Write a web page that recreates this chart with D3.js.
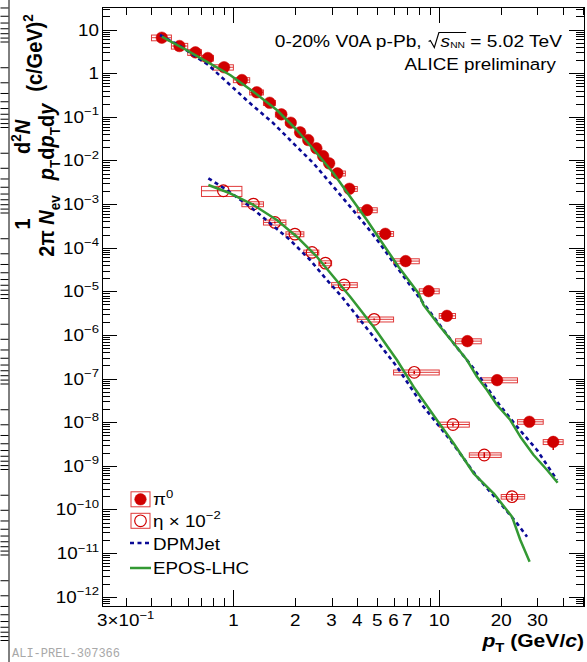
<!DOCTYPE html>
<html><head><meta charset="utf-8">
<script src="https://cdn.jsdelivr.net/npm/d3@7"></script>
<style>
html,body{margin:0;padding:0;background:#fff;}
svg{display:block;font-family:"Liberation Sans",Arial,Helvetica,sans-serif;}
</style></head><body>
<svg id="c" width="587" height="662"></svg>
<script>
// ---------------- data ----------------
const piPt  = [0.449,0.547,0.654,0.751,0.901,1.10,1.30,1.50,1.71,1.90,2.11,2.31,2.53,2.73,2.92,3.20,3.66,4.46,5.47,6.87,8.88,10.9,13.7,19.1,27.4,35.8];
const piVal = [6.52,4.2,3.01,2.23,1.37,0.698,0.365,0.21,0.114,0.0733,0.0441,0.0294,0.019,0.0126,0.00858,0.00506,0.00224,7.28e-4,2.08e-4,4.93e-5,1.01e-5,2.74e-6,7.21e-7,9.19e-8,1.02e-8,3.53e-9];
const piLo  = [0.4,0.5,0.6,0.7,0.8,1.0,1.2,1.4,1.6,1.8,2.0,2.2,2.4,2.6,2.8,3.0,3.5,4,5,6,8,10,12,16,24,32];
const piHi  = [0.5,0.6,0.7,0.8,1.0,1.2,1.4,1.6,1.8,2.0,2.2,2.4,2.6,2.8,3.0,3.5,4.0,5,6,8,10,12,16,24,32,40];
const piSys = [0.15,0.15,0.15,0.15,0.14,0.13,0.13,0.13,0.13,0.13,0.13,0.13,0.13,0.13,0.13,0.13,0.13,0.13,0.13,0.13,0.13,0.13,0.13,0.13,0.12,0.13];
const piStat= [0.01,0.01,0.01,0.01,0.01,0.01,0.01,0.01,0.01,0.01,0.01,0.01,0.01,0.01,0.01,0.02,0.02,0.03,0.04,0.05,0.06,0.08,0.1,0.12,0.2,0.35];

const etaPt  = [0.894,1.25,1.59,1.99,2.41,2.80,3.45,4.83,7.56,11.66,16.55,22.57];
const etaVal = [2.02e-3,1.0e-3,3.8e-4,2.05e-4,7.8e-5,4.43e-5,1.40e-5,2.28e-6,1.39e-7,8.85e-9,1.77e-9,1.96e-10];
const etaLo  = [0.7,1.1,1.4,1.8,2.2,2.6,3,4,6,10,14,20];
const etaHi  = [1.1,1.4,1.8,2.2,2.6,3.0,4,6,10,14,20,26];
const etaSys = [0.26,0.13,0.13,0.13,0.13,0.13,0.13,0.13,0.13,0.13,0.12,0.12];
const etaStat= [0.05,0.05,0.05,0.05,0.05,0.05,0.05,0.05,0.08,0.1,0.15,0.2];

const dpmPiPt  = [0.440,0.551,0.756,0.964,1.206,1.565,1.957,2.449,3.063,3.693,4.452,5.07,6.11,8.39,11.74,14.68,19.08,23.87,29.85,37.35];
const dpmPiVal = [7.52,4.21,1.54,0.537,0.204,0.0711,0.0247,0.00861,0.0025,8.71e-4,3.03e-4,1.37e-4,4.01e-5,5.31e-6,6.43e-7,1.72e-7,2.95e-8,7.88e-9,2.30e-9,4.72e-10];
const eposPiPt  = [0.449,0.571,0.742,0.964,1.251,1.626,2.033,2.544,3.063,3.693,4.452,5.17,6.34,7.93,8.39,10.11,11.74,13.64,15.26,17.06,19.08,22.14,24.77,28.74,33.40,37.60];
const eposPiVal = [6.88,3.73,1.84,0.910,0.377,0.1435,0.0499,0.0146,0.00508,0.001476,4.31e-4,1.50e-4,3.67e-5,9.01e-6,4.86e-6,1.545e-6,6.43e-7,2.66e-7,1.10e-7,5.47e-8,2.48e-8,1.12e-8,4.65e-9,1.77e-9,8.01e-10,4.10e-10];
const dpmEtaPt  = [0.756,0.929,1.206,1.508,1.887,2.360,2.845,3.365,3.559,4.795,6.23,8.39,11.31,15.26,19.80,23.87,26.70];
const dpmEtaVal = [3.90e-3,2.10e-3,8.71e-4,3.63e-4,1.50e-4,5.22e-5,1.82e-5,7.53e-6,5.31e-6,9.11e-7,1.87e-7,2.26e-8,3.90e-9,5.62e-10,1.38e-10,4.81e-11,2.37e-11];
const eposEtaPt  = [0.756,0.964,1.251,1.626,2.033,2.544,3.063,3.693,4.795,6.23,7.50,9.74,11.74,14.68,18.37,22.57,24.77,27.48];
const eposEtaVal = [2.74e-3,1.77e-3,9.53e-4,4.31e-4,1.79e-4,6.22e-5,2.16e-5,7.53e-6,1.545e-6,2.66e-7,6.51e-8,1.12e-8,3.28e-9,6.73e-10,2.34e-10,6.81e-11,1.99e-11,6.34e-12];

const yLabelExp  = [1,0,-1,-2,-3,-4,-5,-6,-7,-8,-9,-10,-11,-12];
const xLabelVals = [0.3,1,2,3,4,5,6,7,10,20,30];
const xLabelMain = ["3×10","1","2","3","4","5","6","7","10","20","30"];
const xLabelSup  = ["−1","","","","","","","","","",""];
const legendLabels = ["π","η × 10","DPMJet","EPOS-LHC"];

// ---------------- layout ----------------
const SX = 1.14;
const L=102, R=584, T=7, B=606;
const RED="#d00000", BOXC="#e03a3a", BLUE="#0a0a96", GREEN="#339933";
const svg = d3.select('#c');
const x = d3.scaleLog().domain([0.23, 50.5]).range([L, R]);
const y = d3.scaleLog().domain([6.11e-13, 32.96]).range([B, T]);

function label(parent, px, py, o={}) {
  const g = parent.append('g').attr('transform', `translate(${px},${py}) scale(${o.sx||SX},1)` + (o.rot ? ` rotate(${o.rot})` : ''));
  const t = g.append('text').attr('text-anchor', o.anchor||'start')
    .attr('font-size', o.size||16.5).attr('font-weight', o.weight||'normal').attr('fill', o.fill||'#000');
  if (o.family) t.attr('font-family', o.family);
  return {g, t};
}
function sp(t, s, o={}) {
  const ts = t.append('tspan').text(s);
  if (o.size) ts.attr('font-size', o.size);
  if (o.dy != null) ts.attr('dy', o.dy);
  if (o.dx != null) ts.attr('dx', o.dx);
  if (o.italic) ts.attr('font-style', 'italic');
  if (o.weight) ts.attr('font-weight', o.weight);
  return ts;
}

// ---------- left-edge artifact axis ----------
const art = d3.scaleLog().domain([1, 1e9]).range([-44, 725.5]);
const artMaj = d3.range(0, 10).map(e => Math.pow(10, e));
const artMin = [];
for (let e = 0; e < 9; e++) for (let d = 2; d <= 9; d++) artMin.push(d * Math.pow(10, e));
svg.append('g').attr('transform', 'translate(8.5,0)')
  .call(d3.axisLeft(art).tickValues(artMaj).tickSize(8).tickSizeOuter(0).tickFormat(''))
  .call(g => g.selectAll('text').remove());
svg.append('g').attr('transform', 'translate(8.5,0)')
  .call(d3.axisLeft(art).tickValues(artMin).tickSize(8).tickSizeOuter(0).tickFormat(''))
  .call(g => { g.select('.domain').remove(); g.selectAll('text').remove(); });

// ---------- frame & ticks ----------
const majY = yLabelExp.map(e => Math.pow(10, e));
const minY = [];
for (let e = -13; e <= 1; e++) for (let d = 2; d <= 9; d++) { const v = d * Math.pow(10, e); if (v > 6.11e-13 && v < 32.96) minY.push(v); }
const majX = [1, 10];
const minX = [];
for (let e = -1; e <= 1; e++) for (let d = 2; d <= 9; d++) { const v = d * Math.pow(10, e); if (v > 0.23 && v < 50.5) minX.push(v); }

const ax = svg.append('g').attr('shape-rendering', 'crispEdges');
function ticks(gen, tr, vals, size) {
  ax.append('g').attr('transform', tr)
    .call(gen.tickValues(vals).tickSize(size).tickSizeOuter(0).tickFormat(''))
    .call(g => { g.select('.domain').remove(); g.selectAll('text').remove(); g.selectAll('line').attr('stroke', '#000'); });
}
ticks(d3.axisLeft(y), `translate(${L},0)`, majY, -15);
ticks(d3.axisLeft(y), `translate(${L},0)`, minY, -8);
ticks(d3.axisRight(y), `translate(${R},0)`, majY, -15);
ticks(d3.axisRight(y), `translate(${R},0)`, minY, -8);
ticks(d3.axisBottom(x), `translate(0,${B})`, majX, -16);
ticks(d3.axisBottom(x), `translate(0,${B})`, minX, -8);
ticks(d3.axisTop(x), `translate(0,${T})`, majX, -16);
ticks(d3.axisTop(x), `translate(0,${T})`, minX, -8);
ax.append('rect').attr('x', L).attr('y', T).attr('width', R - L).attr('height', B - T)
  .attr('fill', 'none').attr('stroke', '#000').attr('stroke-width', 1);

// y tick labels
yLabelExp.forEach(e => {
  const v = Math.pow(10, e);
  const {t} = label(svg, 99, y(v) + 6, {anchor: 'end'});
  if (e === 1) sp(t, '10');
  else if (e === 0) sp(t, '1');
  else { sp(t, '10'); sp(t, '−' + Math.abs(e), {size: 11.5, dy: -7.5}); }
});
// x tick labels
xLabelVals.forEach((v, i) => {
  const {t} = label(svg, x(v), 626, {anchor: 'middle'});
  sp(t, xLabelMain[i]);
  if (xLabelSup[i]) sp(t, xLabelSup[i], {size: 11.5, dy: -7.5});
});

// axis titles
{
  const {t} = label(svg, 584, 646.5, {anchor: 'end', size: 18.5, weight: 'bold'});
  sp(t, 'p', {italic: true}); sp(t, 'T', {size: 13, dy: 5}); sp(t, ' (GeV/', {dy: -5}); sp(t, 'c', {italic: true}); sp(t, ')');
}
{
  const o = {anchor: 'middle', size: 20, weight: 'bold', rot: -90};
  let r = label(svg, 30, 224, o); sp(r.t, '1');
  r = label(svg, 30, 137, o); sp(r.t, 'd'); sp(r.t, '2', {size: 13.5, dy: -8}); sp(r.t, 'N', {dy: 8, italic: true});
  r = label(svg, 54, 226, o); sp(r.t, '2π '); sp(r.t, 'N', {italic: true}); sp(r.t, 'ev', {size: 13.5, dy: 5});
  r = label(svg, 54, 142, o); sp(r.t, 'p', {italic: true}); sp(r.t, 'T', {size: 13.5, dy: 5}); sp(r.t, 'd', {dy: -5}); sp(r.t, 'p', {italic: true}); sp(r.t, 'T', {size: 13.5, dy: 5}); sp(r.t, 'd', {dy: -5}); sp(r.t, 'y', {italic: true});
  r = label(svg, 42, 53, o); sp(r.t, '(c/GeV)'); sp(r.t, '2', {size: 13.5, dy: -8});
}

// header text
{
  const {g, t} = label(svg, 562, 46.5, {anchor: 'end', size: 16.8});
  sp(t, '0-20% V0A p-Pb, ');
  sp(t, 's', {italic: true, dx: 12});
  sp(t, 'NN', {size: 9, dy: 1});
  sp(t, ' = 5.02 TeV', {dy: -1});
  const n = t.node();
  const iS = '0-20% V0A p-Pb, '.length;
  const p0 = n.getStartPositionOfChar(iS);
  const p1 = n.getEndPositionOfChar(iS + 2);
  g.append('path').attr('fill', 'none').attr('stroke', '#000').attr('stroke-width', 1)
    .attr('d', `M${p0.x - 10.5},-5 L${p0.x - 9},-6 L${p0.x - 5.5},1 L${p0.x - 1.5},-14 L${p1.x + 1},-14`);
  const r2 = label(svg, 556, 70, {anchor: 'end', size: 16.5});
  sp(r2.t, 'ALICE preliminary');
}

// ---------- data ----------
const plot = svg.append('g');
function drawSeries(pt, val, lo, hi, sys, stat, filled) {
  const g = plot.append('g');
  pt.forEach((p, i) => {
    const v = val[i];
    const y0 = y(v * (1 + sys[i])), y1 = y(v * (1 - sys[i]));
    g.append('rect').attr('x', x(lo[i])).attr('y', y0).attr('width', x(hi[i]) - x(lo[i])).attr('height', y1 - y0)
      .attr('fill', 'none').attr('stroke', BOXC).attr('stroke-width', 1);
    g.append('line').attr('x1', x(lo[i])).attr('x2', x(hi[i])).attr('y1', y(v)).attr('y2', y(v))
      .attr('stroke', BOXC).attr('stroke-width', 1);
    g.append('line').attr('x1', x(p)).attr('x2', x(p)).attr('y1', y(v * (1 + stat[i]))).attr('y2', y(v * (1 - stat[i])))
      .attr('stroke', RED).attr('stroke-width', 1.5);
  });
  g.selectAll('circle').data(pt).join('circle')
    .attr('cx', d => x(d)).attr('cy', (d, i) => y(val[i])).attr('r', 5.8)
    .attr('fill', filled ? RED : 'none').attr('stroke', RED).attr('stroke-width', filled ? 0.5 : 1.2);
}
drawSeries(piPt, piVal, piLo, piHi, piSys, piStat, true);
drawSeries(etaPt, etaVal, etaLo, etaHi, etaSys, etaStat, false);

const line = d3.line().x(d => x(d[0])).y(d => y(d[1]));
function curve(pt, val, color, dash) {
  plot.append('path').datum(pt.map((p, i) => [p, val[i]])).attr('d', line)
    .attr('fill', 'none').attr('stroke', color).attr('stroke-width', dash ? 2.6 : 2.5)
    .attr('stroke-dasharray', dash ? '4,3.5' : null).attr('stroke-linejoin', 'round');
}
curve(dpmPiPt, dpmPiVal, BLUE, true);
curve(dpmEtaPt, dpmEtaVal, BLUE, true);
curve(eposPiPt, eposPiVal, GREEN, false);
curve(eposEtaPt, eposEtaVal, GREEN, false);

// ---------- legend ----------
{
  const lg = svg.append('g');
  [[499.3, true], [520.8, false]].forEach(([cy, filled]) => {
    lg.append('rect').attr('x', 131).attr('y', cy - 7.5).attr('width', 19).attr('height', 15)
      .attr('fill', 'none').attr('stroke', BOXC).attr('stroke-width', 1);
    lg.append('circle').attr('cx', 140.5).attr('cy', cy).attr('r', 5.8)
      .attr('fill', filled ? RED : 'none').attr('stroke', RED).attr('stroke-width', filled ? 0.5 : 1.2);
  });
  lg.append('line').attr('x1', 130).attr('x2', 151).attr('y1', 543).attr('y2', 543)
    .attr('stroke', BLUE).attr('stroke-width', 2.6).attr('stroke-dasharray', '4,3.5');
  lg.append('line').attr('x1', 130).attr('x2', 151).attr('y1', 568).attr('y2', 568)
    .attr('stroke', GREEN).attr('stroke-width', 2.5);
  let r = label(svg, 153, 505); sp(r.t, legendLabels[0]); sp(r.t, '0', {size: 11.5, dy: -7.5});
  r = label(svg, 153, 526.5); sp(r.t, legendLabels[1]); sp(r.t, '−2', {size: 11.5, dy: -7.5});
  r = label(svg, 153, 549.5); sp(r.t, legendLabels[2]);
  r = label(svg, 153, 574); sp(r.t, legendLabels[3]);
}

// watermark
{
  const r = label(svg, 12, 657, {size: 12, sx: 1, fill: '#a8a8a8', family: '"Liberation Mono","Courier New",monospace'});
  sp(r.t, 'ALI-PREL-307366');
}
</script>
</body></html>
